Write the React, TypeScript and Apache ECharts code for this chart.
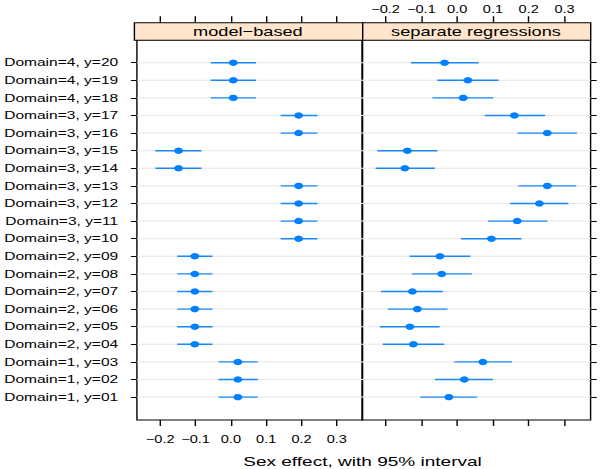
import React, { useEffect, useRef } from 'react';
import * as echarts from 'echarts';

// ---- data (rows listed bottom -> top) ----
const rowLabels = [
  'Domain=1, y=01', 'Domain=1, y=02', 'Domain=1, y=03',
  'Domain=2, y=04', 'Domain=2, y=05', 'Domain=2, y=06', 'Domain=2, y=07', 'Domain=2, y=08', 'Domain=2, y=09',
  'Domain=3, y=10', 'Domain=3, y=11', 'Domain=3, y=12', 'Domain=3, y=13', 'Domain=3, y=14', 'Domain=3, y=15',
  'Domain=3, y=16', 'Domain=3, y=17',
  'Domain=4, y=18', 'Domain=4, y=19', 'Domain=4, y=20',
];

const modelEst = [0.020, 0.020, 0.020, -0.102, -0.102, -0.102, -0.102, -0.102, -0.102,
  0.192, 0.192, 0.192, 0.192, -0.148, -0.148, 0.192, 0.192, 0.007, 0.007, 0.007];
const modelLo = [-0.035, -0.035, -0.035, -0.152, -0.152, -0.152, -0.152, -0.152, -0.152,
  0.141, 0.141, 0.141, 0.141, -0.214, -0.214, 0.141, 0.141, -0.057, -0.057, -0.057];
const modelHi = [0.076, 0.076, 0.076, -0.052, -0.052, -0.052, -0.052, -0.052, -0.052,
  0.245, 0.245, 0.245, 0.245, -0.083, -0.083, 0.245, 0.245, 0.071, 0.071, 0.071];

const sepEst = [-0.023, 0.020, 0.072, -0.122, -0.132, -0.111, -0.125, -0.043, -0.048,
  0.096, 0.168, 0.230, 0.252, -0.146, -0.139, 0.252, 0.160, 0.017, 0.030, -0.035];
const sepLo = [-0.103, -0.062, -0.008, -0.208, -0.216, -0.194, -0.213, -0.126, -0.133,
  0.011, 0.086, 0.148, 0.171, -0.228, -0.223, 0.169, 0.077, -0.069, -0.056, -0.129];
const sepHi = [0.056, 0.100, 0.153, -0.036, -0.049, -0.027, -0.040, 0.041, 0.037,
  0.180, 0.252, 0.311, 0.333, -0.062, -0.055, 0.335, 0.246, 0.101, 0.116, 0.060];

const xTicks = [-0.2, -0.1, 0.0, 0.1, 0.2, 0.3];
const panelTitles = ['model\u2212based', 'separate regressions'];
const xLabel = 'Sex effect, with 95% interval';

// ---- layout ----
const SX = 1.4;
const W = 600 / SX;
const H = 469;
const FONT = 'Liberation Sans, Arial, Helvetica, sans-serif';
const X_MIN = -0.266;
const X_MAX = 0.373;
const Y_MIN = -1.3;
const Y_MAX = 20.3;
const P0L = 133.7 / SX;
const P1L = 362 / SX;
const P1R = 590 / SX;
const STRIP_TOP = 22.2;
const PANEL_TOP = 39.8;
const PANEL_BOTTOM = 420;

const fmt = (v: number) => (v < -1e-9 ? '\u2212' : '') + Math.abs(v).toFixed(1);

function renderItem(params: any, api: any) {
  const i = api.value(0);
  const est = api.value(1);
  const lo = api.value(2);
  const hi = api.value(3);
  const cs = params.coordSys;
  const pE = api.coord([est, i]);
  const pL = api.coord([lo, i]);
  const pH = api.coord([hi, i]);
  return {
    type: 'group',
    children: [
      { type: 'line', shape: { x1: cs.x, y1: pE[1], x2: cs.x + cs.width, y2: pE[1] }, style: { stroke: '#e6e6e6', lineWidth: 1 } },
      { type: 'line', shape: { x1: pL[0], y1: pL[1], x2: pH[0], y2: pH[1] }, style: { stroke: '#1a88fa', lineWidth: 1.4 } },
      { type: 'circle', shape: { cx: pE[0], cy: pE[1], r: 3.2 }, style: { fill: '#0080ff' } },
    ],
  };
}

function xAxisDef(gridIndex: number, position: string, showLabels: boolean, offset: number) {
  return {
    type: 'value', gridIndex, position, offset, min: X_MIN, max: X_MAX,
    splitLine: { show: false },
    axisLine: { show: false, onZero: false },
    axisTick: { show: true, inside: false, length: 6, customValues: xTicks, lineStyle: { color: '#000', width: 1 } },
    axisLabel: {
      show: showLabels, customValues: xTicks, formatter: (v: number) => fmt(v),
      color: '#000', fontSize: 10.4, fontFamily: FONT,
      margin: position === 'top' ? 7 : 15,
    },
  };
}

function yAxisDef(gridIndex: number, position: string, showLabels: boolean) {
  const idx = rowLabels.map((_, i) => i);
  return {
    type: 'value', gridIndex, position, min: Y_MIN, max: Y_MAX,
    splitLine: { show: false },
    axisLine: { show: false, onZero: false },
    axisTick: { show: true, inside: false, length: 4.3, customValues: idx, lineStyle: { color: '#000', width: 1 } },
    axisLabel: {
      show: showLabels, customValues: idx, formatter: (v: number) => rowLabels[Math.round(v)],
      color: '#000', fontSize: 11.1, fontFamily: FONT, margin: 13.4,
    },
  };
}

export default function App() {
  const ref = useRef<HTMLDivElement>(null);
  useEffect(() => {
    if (!ref.current) return;
    const chart = echarts.init(ref.current, null, { renderer: 'svg' });
    const modelData = rowLabels.map((_, i) => [i, modelEst[i], modelLo[i], modelHi[i]]);
    const sepData = rowLabels.map((_, i) => [i, sepEst[i], sepLo[i], sepHi[i]]);
    const gridCommon = { top: PANEL_TOP, bottom: H - PANEL_BOTTOM, show: true, borderColor: '#000', borderWidth: 1, backgroundColor: 'transparent', containLabel: false };
    chart.setOption({
      animation: false,
      backgroundColor: '#fff',
      textStyle: { fontFamily: FONT },
      grid: [
        { ...gridCommon, left: P0L, right: W - P1L },
        { ...gridCommon, left: P1L, right: W - P1R },
      ],
      xAxis: [
        xAxisDef(0, 'bottom', true, 0),
        xAxisDef(0, 'top', false, PANEL_TOP - STRIP_TOP),
        xAxisDef(1, 'bottom', false, 0),
        xAxisDef(1, 'top', true, PANEL_TOP - STRIP_TOP),
      ],
      yAxis: [yAxisDef(0, 'left', true), yAxisDef(1, 'right', false)],
      series: [
        { type: 'custom', name: panelTitles[0], xAxisIndex: 0, yAxisIndex: 0, renderItem, data: modelData, encode: { x: [1, 2, 3], y: 0 } },
        { type: 'custom', name: panelTitles[1], xAxisIndex: 2, yAxisIndex: 1, renderItem, data: sepData, encode: { x: [1, 2, 3], y: 0 } },
      ],
      graphic: [
        { type: 'rect', left: P0L, top: STRIP_TOP, shape: { x: 0, y: 0, width: P1L - P0L, height: PANEL_TOP - STRIP_TOP }, style: { fill: '#ffe5cc', stroke: '#000', lineWidth: 1 }, z: 10 },
        { type: 'rect', left: P1L, top: STRIP_TOP, shape: { x: 0, y: 0, width: P1R - P1L, height: PANEL_TOP - STRIP_TOP }, style: { fill: '#ffe5cc', stroke: '#000', lineWidth: 1 }, z: 10 },
        { type: 'text', x: (P0L + P1L) / 2, y: (STRIP_TOP + PANEL_TOP) / 2 + 0.5, style: { text: panelTitles[0], fontSize: 13, fontFamily: FONT, fill: '#000', textAlign: 'center', textVerticalAlign: 'middle' }, z: 11 },
        { type: 'text', x: (P1L + P1R) / 2, y: (STRIP_TOP + PANEL_TOP) / 2 + 0.5, style: { text: panelTitles[1], fontSize: 13, fontFamily: FONT, fill: '#000', textAlign: 'center', textVerticalAlign: 'middle' }, z: 11 },
        { type: 'text', x: 362.5 / SX, y: 461.5, style: { text: xLabel, fontSize: 13.6, fontFamily: FONT, fill: '#000', textAlign: 'center', textVerticalAlign: 'middle' }, z: 11 },
      ],
    });
    return () => chart.dispose();
  }, []);
  return (
    <div style={{ position: 'fixed', left: 0, top: 0, width: 600, height: H, overflow: 'hidden', background: '#fff' }}>
      <div
        ref={ref}
        style={{ position: 'absolute', left: 0, top: 0, width: W, height: H, transform: `scaleX(${SX})`, transformOrigin: '0 0' }}
      />
    </div>
  );
}
